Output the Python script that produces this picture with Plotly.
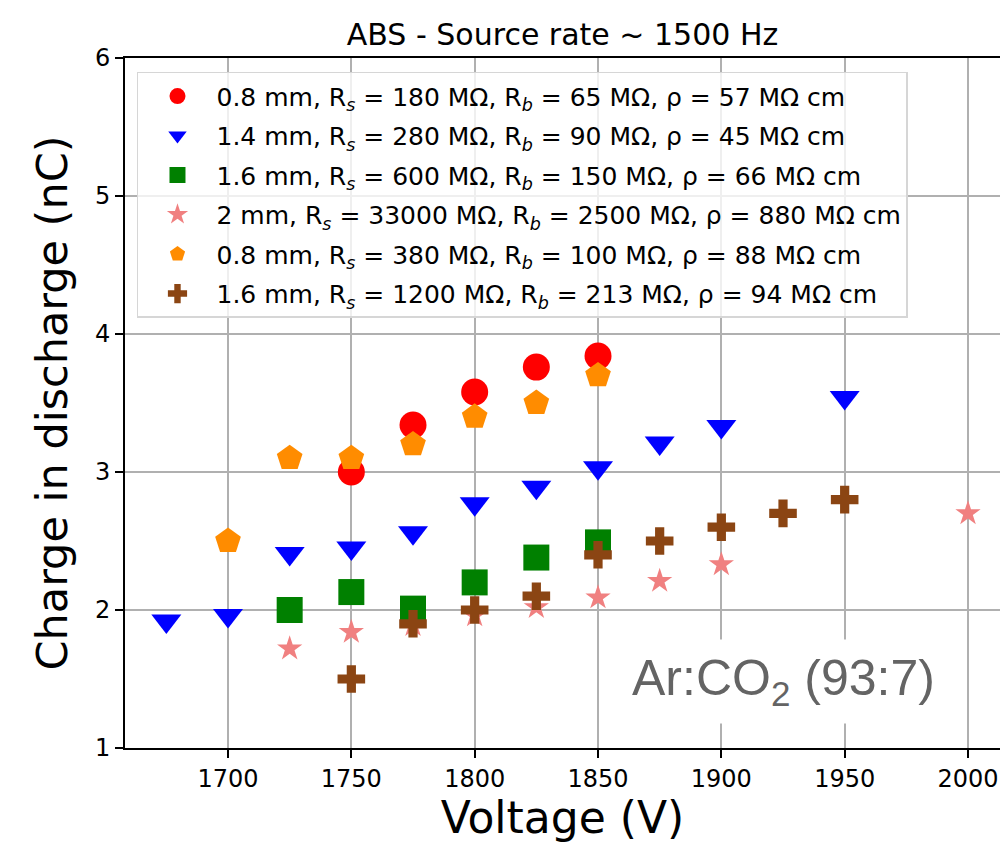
import plotly.graph_objects as go

# Charge in discharge (nC) vs. applied voltage (V) for the different samples
v_red = [1750, 1775, 1800, 1825, 1850]
q_red = [3.00, 3.34, 3.58, 3.76, 3.84]

v_blue = [1675, 1700, 1725, 1750, 1775, 1800, 1825, 1850, 1875, 1900, 1950]
q_blue = [1.92, 1.96, 2.41, 2.45, 2.56, 2.77, 2.89, 3.03, 3.21, 3.33, 3.54]

v_green = [1725, 1750, 1775, 1800, 1825, 1850]
q_green = [2.00, 2.13, 2.01, 2.20, 2.38, 2.49]

v_star = [1725, 1750, 1775, 1800, 1825, 1850, 1875, 1900, 2000]
q_star = [1.72, 1.84, 1.89, 1.96, 2.02, 2.09, 2.21, 2.33, 2.70]

v_orange = [1700, 1725, 1750, 1775, 1800, 1825, 1850]
q_orange = [2.50, 3.10, 3.10, 3.20, 3.40, 3.50, 3.70]

v_brown = [1750, 1775, 1800, 1825, 1850, 1875, 1900, 1925, 1950]
q_brown = [1.50, 1.90, 2.00, 2.10, 2.40, 2.50, 2.60, 2.70, 2.80]

labels = [
    "0.8 mm, R<sub><i>s</i></sub> = 180 MΩ, R<sub><i>b</i></sub> = 65 MΩ, ρ = 57 MΩ cm",
    "1.4 mm, R<sub><i>s</i></sub> = 280 MΩ, R<sub><i>b</i></sub> = 90 MΩ, ρ = 45 MΩ cm",
    "1.6 mm, R<sub><i>s</i></sub> = 600 MΩ, R<sub><i>b</i></sub> = 150 MΩ, ρ = 66 MΩ cm",
    "2 mm, R<sub><i>s</i></sub> = 33000 MΩ, R<sub><i>b</i></sub> = 2500 MΩ, ρ = 880 MΩ cm",
    "0.8 mm, R<sub><i>s</i></sub> = 380 MΩ, R<sub><i>b</i></sub> = 100 MΩ, ρ = 88 MΩ cm",
    "1.6 mm, R<sub><i>s</i></sub> = 1200 MΩ, R<sub><i>b</i></sub> = 213 MΩ, ρ = 94 MΩ cm",
]

series = [
    (v_red, q_red, "circle", 27, "#ff0000"),
    (v_blue, q_blue, "triangle-down", 26, "#0000ff"),
    (v_green, q_green, "square", 26, "#008000"),
    (v_star, q_star, "star", 19, "#f08080"),
    (v_orange, q_orange, "pentagon", 27, "#ff8c00"),
    (v_brown, q_brown, "cross", 23, "#8b4513"),
]

FONT = "DejaVu Sans"

fig = go.Figure()
for i, ((xv, yv, sym, size, col), name) in enumerate(zip(series, labels)):
    fig.add_trace(go.Scatter(
        x=xv, y=yv, mode="markers", name=name, legendgroup=f"g{i}",
        marker=dict(symbol=sym, size=size, color=col, line=dict(width=0)),
    ))

fig.add_annotation(
    text="Ar:CO<sub>2</sub> (93:7)",
    xref="paper", yref="paper", x=0.753, y=0.097,
    xanchor="center", yanchor="middle", showarrow=False,
    font=dict(family="Liberation Sans", size=50, color="#646464"),
    bgcolor="white", borderpad=10,
)

fig.update_layout(
    width=1000, height=843,
    margin=dict(l=125, r=0, t=58, b=95),
    paper_bgcolor="white", plot_bgcolor="white",
    font=dict(family=FONT, color="black"),
    title=dict(text="ABS - Source rate ~ 1500 Hz", x=0.5625, xanchor="center",
               y=0.959, yanchor="middle", font=dict(size=30, family=FONT)),
    legend=dict(
        x=0.0137, y=0.98, xanchor="left", yanchor="top",
        bgcolor="rgba(255,255,255,0.8)", bordercolor="#d6d6d6", borderwidth=1.5,
        font=dict(size=25, family=FONT), tracegroupgap=4, itemsizing="trace",
        itemwidth=68,
    ),
    showlegend=True,
)

fig.update_xaxes(
    range=[1658.24, 2012.97], tickvals=[1700, 1750, 1800, 1850, 1900, 1950, 2000],
    showgrid=True, gridcolor="#b0b0b0", gridwidth=1.6,
    showline=True, linecolor="black", linewidth=1.6, mirror=True,
    ticks="outside", ticklen=8, tickwidth=1.5, tickcolor="black",
    tickfont=dict(size=24, family=FONT), zeroline=False,
    title=dict(text="Voltage (V)", font=dict(size=44, family=FONT), standoff=10),
)
fig.update_yaxes(
    range=[1, 6], tickvals=[1, 2, 3, 4, 5, 6],
    showgrid=True, gridcolor="#b0b0b0", gridwidth=1.6,
    showline=True, linecolor="black", linewidth=1.6, mirror=False,
    ticks="outside", ticklen=8, tickwidth=1.5, tickcolor="black",
    tickfont=dict(size=24, family=FONT), zeroline=False,
    title=dict(text="Charge in discharge (nC)", font=dict(size=43, family=FONT), standoff=14),
)

fig.write_html("out.html")
